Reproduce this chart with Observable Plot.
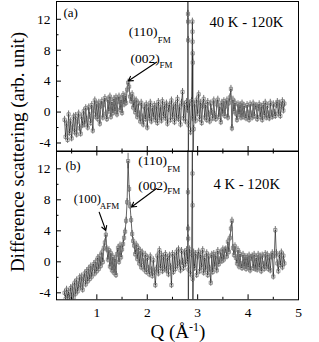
<!DOCTYPE html>
<html><head><meta charset="utf-8">
<script src="https://cdn.jsdelivr.net/npm/d3@7"></script>
<script src="https://cdn.jsdelivr.net/npm/@observablehq/plot@0.6"></script>
<style>
body{margin:0;background:#fff;}
#wrap{position:relative;width:319px;height:342px;overflow:hidden;font-family:"Liberation Serif","Times New Roman",serif;color:#000;}
#wrap svg{position:absolute;left:0;}
.ylab{position:absolute;left:17px;top:152px;transform:translate(-50%,-50%) rotate(-90deg);font-size:19px;line-height:19px;white-space:nowrap;}
.xlab{position:absolute;left:178px;top:322px;transform:translateX(-50%);font-size:19px;line-height:19px;white-space:nowrap;}
.xlab .sup{font-size:12px;position:relative;top:-7px;}
</style></head><body><div id="wrap"></div>
<script>
// Q grid of the measurement (start and step of the uniformly spaced Q points)
const qStart = 0.36, qStep = 0.02;
const xMajor = [1, 2, 3, 4];
const xMinor = [0.5, 1.5, 2.5, 3.5, 4.5];
const xLabels = [1, 2, 3, 4, 5];
const yMajor = [12, 8, 4, 0, -4];
const yMinor = [10, 6, 2, -2];

// (a) 40 K - 120 K difference scattering
const valsA = [
 -1.0,-3.2,-1.5,-3.6,-0.3,-2.7,-1.2,-3.4,-2.0,-0.6,
 -2.6,-0.5,-2.9,-1.2,-0.2,-2.1,-2.8,-0.6,-1.7,0.1,
 -1.6,0.5,-1.0,-2.0,0.6,-0.5,-1.4,0.9,-2.4,0.2,
 1.5,-0.6,1.0,-0.9,1.2,-1.5,0.8,1.4,-0.7,1.0,
 1.8,-0.2,-0.9,1.6,0.1,2.0,-0.6,1.3,-0.1,1.7,
 0.1,1.9,-0.3,1.4,2.0,0.3,1.6,-0.1,2.2,1.0,
 2.1,1.2,2.9,3.8,3.3,2.0,1.4,2.3,0.6,1.6,
 0.0,1.5,-0.6,1.1,-0.3,-1.2,1.2,-0.7,-1.6,0.7,
 -0.9,1.0,-2.0,0.6,-0.8,1.2,-1.2,0.5,-0.6,0.9,
 -1.0,0.7,-1.4,1.3,-0.7,0.6,-1.1,1.4,-0.5,0.8,
 -0.8,1.1,-1.5,0.4,0.9,-1.0,1.5,-0.6,0.7,-1.3,
 1.0,-0.7,1.7,-0.9,0.6,-1.6,1.2,2.6,-0.8,0.9,
 -1.2,1.3,0.3,-1.7,1.1,-2.6,1.4,-0.8,-2.2,1.0,
 -1.1,1.6,-0.2,2.3,-0.9,1.2,-1.4,0.8,1.7,-0.7,
 0.9,-1.0,1.3,-0.3,-1.2,1.1,0.0,-0.8,1.5,-0.4,
 -0.9,1.0,1.6,-0.6,0.7,-1.3,1.2,-0.2,1.4,-0.5,
 0.8,1.5,-0.7,1.2,1.9,3.0,-2.1,1.6,0.1,1.2,
 -0.2,-1.0,1.0,-0.3,0.9,-0.7,1.1,-0.6,0.8,-0.4,
 -0.8,0.9,-0.2,-1.0,1.0,-0.3,-0.7,1.1,-0.5,0.7,
 0.8,-0.9,0.5,1.0,-0.6,0.7,-1.0,0.9,-0.4,1.2,
 -0.7,0.8,-0.3,-0.8,1.2,-0.2,-0.6,1.0,-0.1,-0.5,
 0.9,1.3,-0.2,1.1,-0.5,0.8,1.4,0.2,1.1
];
const spikeQA = [2.806, 2.808, 2.810, 2.812, 2.814, 2.895, 2.897, 2.899, 2.901, 2.903, 2.905];
const spikeVA = [16, 12.7, 11.7, 9.3, -12, 11.7, 10.4, 9.1, 7.6, 6.4, -12];
const errA = 0.45;
const bigErrQA = [];
const bigErrA = [];

// (b) 4 K - 120 K difference scattering
const valsB = [
 -4.0,-4.8,-3.6,-4.7,-3.9,-4.8,-3.4,-4.5,-3.2,-4.6,
 -2.7,-4.1,-2.4,-3.8,-3.0,-2.0,-3.3,-1.9,-3.6,-2.2,
 -1.5,-2.9,-1.2,-2.5,-0.9,-2.2,-0.6,-1.9,-0.8,-0.3,
 -1.5,0.0,-1.2,0.5,-0.9,0.7,-0.5,1.2,0.0,1.8,
 2.5,3.5,1.6,0.3,1.5,-0.6,1.1,-1.1,0.6,-1.4,
 0.4,-1.7,1.0,1.8,0.0,2.1,0.6,1.6,2.3,3.1,
 3.9,5.3,7.7,13.0,9.4,7.2,5.4,3.6,2.7,2.1,
 1.0,2.2,0.4,1.8,-0.2,1.4,-0.7,1.2,0.0,-1.0,
 0.9,-1.3,0.5,-0.9,-1.6,0.7,-1.1,-1.8,0.2,-1.3,
 -3.0,-0.9,0.8,-1.5,1.5,-0.8,0.9,-1.2,0.6,-0.9,
 1.0,-1.1,0.5,-1.6,0.8,-0.7,-3.0,1.0,-1.3,0.7,
 -0.9,1.3,-0.5,1.6,-0.2,-1.1,1.4,0.0,-0.8,1.2,
 -0.3,1.5,0.1,-1.0,1.6,-1.6,1.0,-2.2,1.2,-0.8,
 1.0,-1.7,0.7,1.3,-1.2,0.9,-0.7,1.5,-1.4,0.5,
 -1.0,1.1,-1.7,0.7,-0.9,-2.7,0.9,-1.3,1.0,-0.6,
 0.8,-1.1,1.4,-0.3,0.2,1.2,0.1,1.6,0.3,1.5,
 1.6,0.7,2.6,1.3,3.1,4.3,5.3,1.8,0.9,2.0,
 0.5,-0.2,1.5,-0.6,1.0,-0.4,-0.8,0.9,-0.6,0.6,
 -0.9,0.6,-0.7,0.8,-1.1,0.5,0.7,-0.8,0.9,-0.9,
 0.5,-1.0,0.9,-0.7,0.7,-1.2,0.8,-0.4,-0.9,1.0,
 -0.6,0.9,-0.9,0.6,-1.1,0.7,1.1,-1.9,0.8,4.1,
 1.1,-0.2,-1.2,0.9,-0.4,1.2,-0.7,0.8,-0.2
];
const spikeQB = [2.806, 2.808, 2.810, 2.812, 2.814, 2.895, 2.897, 2.899, 2.901];
const spikeVB = [16, 9.0, 4.3, 3.0, -12, 16, 11.4, 7.3, -12];
const errB = 0.45;
const bigErrQB = [1.62];
const bigErrB = [1.0];

// annotations
const textA = ["(a)", "40 K - 120K", "(110)", "(002)"];
const textQA = [0.339, 3.235, 1.634, 1.668];
const textVA = [12.3, 10.94, 9.78, 6.34];
const textSizeA = [13, 14.7, 13.5, 13.5];
const subA = ["FM", "FM"];
const subQA = [1.634, 1.668];
const subVA = [9.78, 6.34];
const subDxA = [29, 29];
const subDyA = [6.5, 4.5];
const arrowA = [{q1: 2.183, v1: 6.45, q2: 1.622, v2: 4.02}];

const textB = ["(b)", "4 K - 120K", "(110)", "(002)", "(100)"];
const textQB = [0.379, 3.314, 1.820, 1.820, 0.543];
const textVB = [11.91, 9.40, 12.49, 9.27, 7.65];
const textSizeB = [13, 14.7, 13.5, 13.5, 12.5];
const subB = ["FM", "FM", "AFM"];
const subQB = [1.820, 1.820, 0.543];
const subVB = [12.49, 9.27, 7.65];
const subDxB = [29, 29, 26];
const subDyB = [6.5, 4.5, 6];
const arrowB = [
  {q1: 2.183, v1: 9.46, q2: 1.688, v2: 7.07},
  {q1: 1.047, v1: 6.4, q2: 1.178, v2: 4.04}
];

function buildSeries(vals, sq, sv) {
  const pts = vals.map((v, i) => ({q: +(qStart + i * qStep).toFixed(3), v}));
  sq.forEach((q, i) => pts.push({q, v: sv[i]}));
  pts.sort((a, b) => a.q - b.q);
  return pts;
}

function panel(o) {
  const data = buildSeries(o.vals, o.spikeQ, o.spikeV);
  const errOf = d => { const k = o.bigErrQ.indexOf(d.q); return k >= 0 ? o.bigErr[k] : o.err; };
  const texts = o.texts.map((t, i) => ({t, q: o.textQ[i], v: o.textV[i], s: o.textSize[i]}));
  const subs = o.subs.map((t, i) => ({t, q: o.subQ[i], v: o.subV[i], dx: o.subDx[i], dy: o.subDy[i]}));
  const marks = [
    Plot.ruleX(data, {x: "q", y1: d => d.v - errOf(d), y2: d => d.v + errOf(d), stroke: "#111", strokeWidth: 0.6, clip: true}),
    Plot.line(data, {x: "q", y: "v", stroke: "#222", strokeWidth: 0.7, clip: true}),
    Plot.dot(data, {x: "q", y: "v", symbol: "square", r: 1.8, fill: "none", stroke: "#777", strokeWidth: 0.75, clip: true}),
    Plot.frame({stroke: "black", strokeWidth: 1}),
    Plot.axisY(yMajor, {anchor: "left", tickSize: -5, fill: "none", label: null}),
    Plot.axisY(yMinor, {anchor: "left", tickSize: -2.5, fill: "none", label: null}),
    Plot.axisY(yMajor, {anchor: "left", tickSize: 0, tickPadding: 6, tickFormat: d => String(d), label: null, fontSize: 13.5}),
    Plot.axisX(xMajor, {anchor: "bottom", tickSize: -5, fill: "none", label: null}),
    Plot.axisX(xMinor, {anchor: "bottom", tickSize: -2.5, fill: "none", label: null}),
    Plot.text(texts, {x: "q", y: "v", text: "t", fontSize: "s", textAnchor: "start", lineAnchor: "bottom", fill: "black"}),
    ...subs.map(s => Plot.text([s], {x: "q", y: "v", text: "t", dx: s.dx, dy: s.dy, fontSize: 9, textAnchor: "start", lineAnchor: "bottom", fill: "black"})),
    Plot.arrow(o.arrows, {x1: "q1", y1: "v1", x2: "q2", y2: "v2", stroke: "black", strokeWidth: 1.1, headLength: 7})
  ];
  if (o.topTicks) {
    marks.push(Plot.axisX(xMajor, {anchor: "top", tickSize: -4, fill: "none", label: null}));
    marks.push(Plot.axisX(xMinor, {anchor: "top", tickSize: -2, fill: "none", label: null}));
  }
  if (o.xText) {
    marks.push(Plot.axisX(xLabels, {anchor: "bottom", tickSize: 0, tickPadding: 8, tickFormat: d => String(d), label: null, fontSize: 13.5}));
  }
  return Plot.plot({
    width: 319, height: o.height,
    marginLeft: 56, marginRight: 21, marginTop: o.marginTop, marginBottom: o.marginBottom,
    x: {domain: [0.2, 5]},
    y: {domain: o.yDomain},
    style: {fontFamily: "'Liberation Serif', 'Times New Roman', serif", fontSize: "13.5px", background: "none", overflow: "visible", color: "black"},
    marks
  });
}

const wrap = document.getElementById("wrap");
const svgA = panel({vals: valsA, spikeQ: spikeQA, spikeV: spikeVA, err: errA, bigErrQ: bigErrQA, bigErr: bigErrA,
  texts: textA, textQ: textQA, textV: textVA, textSize: textSizeA,
  subs: subA, subQ: subQA, subV: subVA, subDx: subDxA, subDy: subDyA, arrows: arrowA,
  height: 152, marginTop: 1, marginBottom: 1, yDomain: [-5.1, 14.3], topTicks: false, xText: false});
const svgB = panel({vals: valsB, spikeQ: spikeQB, spikeV: spikeVB, err: errB, bigErrQ: bigErrQB, bigErr: bigErrB,
  texts: textB, textQ: textQB, textV: textVB, textSize: textSizeB,
  subs: subB, subQ: subQB, subV: subVB, subDx: subDxB, subDy: subDyB, arrows: arrowB,
  height: 192, marginTop: 0.5, marginBottom: 42.7, yDomain: [-4.9, 14.3], topTicks: true, xText: true});
svgA.style.top = "0px";
svgB.style.top = "150px";
wrap.appendChild(svgB);
wrap.appendChild(svgA);

const yl = document.createElement("div");
yl.className = "ylab";
yl.textContent = "Difference scattering (arb. unit)";
wrap.appendChild(yl);
const xl = document.createElement("div");
xl.className = "xlab";
xl.innerHTML = 'Q (Å<span class="sup">-1</span>)';
wrap.appendChild(xl);
</script></body></html>
